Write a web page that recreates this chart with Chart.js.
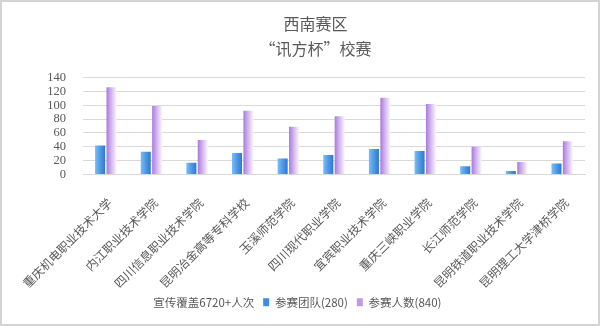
<!DOCTYPE html>
<html>
<head>
<meta charset="utf-8">
<script src="https://cdn.jsdelivr.net/npm/chart.js@4/dist/chart.umd.min.js"></script>
<style>
    html, body { margin: 0; padding: 0; background: #fff; }
    #wrap { position: relative; width: 600px; height: 326px; box-sizing: border-box; border: 2px solid #d4d4d4; }
    #chart { position: absolute; left: 0; top: 0; }
</style>
</head>
<body>
<div id="wrap"><canvas id="chart" width="596" height="322"></canvas></div>
<script>
// data
const schools = ['重庆机电职业技术大学', '内江职业技术学院', '四川信息职业技术学院', '昆明冶金高等专科学校', '玉溪师范学院',
    '四川现代职业学院', '宜宾职业技术学院', '重庆三峡职业学院', '长江师范学院', '昆明铁道职业技术学院', '昆明理工大学津桥学院'];
const teams = [42, 33, 17, 31, 23, 28, 37, 34, 12, 5, 16];
const people = [126, 99, 50, 92, 69, 84, 111, 102, 40, 18, 48];
const yTicks = [0, 20, 40, 60, 80, 100, 120, 140];
const coverNote = '宣传覆盖6720+人次';

const fontFamily = '"Noto Sans CJK SC", "DejaVu Sans", sans-serif';
const textColor = '#595959';

// horizontal gradient on each bar, like the office chart
const barGradient = {
    id: 'barGradient',
    afterLayout(chart) {
        // legend sits a bit left of centre in the original
        chart.legend.left -= 24;
        chart.legend.right -= 24;
    },
    beforeDatasetsDraw(chart) {
        const ctx = chart.ctx;
        chart.data.datasets.forEach((ds, di) => {
            if (!ds.gradStops) return;
            const meta = chart.getDatasetMeta(di);
            meta.data.forEach(bar => {
                const g = ctx.createLinearGradient(bar.x - bar.width / 2, 0, bar.x + bar.width / 2, 0);
                ds.gradStops.forEach(s => g.addColorStop(s[0], s[1]));
                bar.options.backgroundColor = g;
            });
        });
    }
};

const ctx = document.getElementById('chart').getContext('2d');
const chart = new Chart(ctx, {
    type: 'bar',
    data: {
        labels: schools,
        datasets: [{
            label: '参赛团队(280)',
            data: teams,
            backgroundColor: () => '#4a92e0',
            legendColor: '#3f8ddf',
            gradStops: [[0, '#7cbcf4'], [0.5, '#4f9ae6'], [1, '#2f78cf']]
        }, {
            label: '参赛人数(840)',
            data: people,
            backgroundColor: () => '#b58be2',
            legendColor: '#c09ae6',
            gradStops: [[0, '#a87ad8'], [0.35, '#c9a6ec'], [1, '#fbf7fe']]
        }]
    },
    options: {
        responsive: false,
        animation: false,
        layout: { padding: { left: 44, right: 13, top: 0, bottom: 6 } },
        datasets: {
            bar: { categoryPercentage: 0.5, barPercentage: 0.88 }
        },
        scales: {
            x: {
                grid: { display: false },
                border: { color: '#d9d9d9' },
                ticks: {
                    color: textColor,
                    font: { family: fontFamily, size: 12 },
                    minRotation: 45,
                    maxRotation: 45,
                    autoSkip: false,
                    padding: 13,
                    labelOffset: 4
                },
                afterFit: axis => { axis.paddingLeft = 0; axis.paddingRight = 0; axis.height = 113; }
            },
            y: {
                min: 0,
                max: 140,
                afterBuildTicks: axis => { axis.ticks = yTicks.map(v => ({ value: v })); },
                grid: { color: '#d9d9d9', drawTicks: false },
                border: { display: false },
                ticks: {
                    color: textColor,
                    font: { family: '"Liberation Serif", serif', size: 12.5 },
                    autoSkip: false,
                    padding: 17
                },
                afterFit: axis => { axis.width = 37; }
            }
        },
        plugins: {
            title: {
                display: true,
                text: ['西南赛区', '“讯方杯”校赛'],
                color: textColor,
                font: { family: fontFamily, size: 16, weight: 'normal', lineHeight: 1.55 },
                padding: { top: 10, bottom: 16 }
            },
            legend: {
                position: 'bottom',
                labels: {
                    color: textColor,
                    font: { family: fontFamily, size: 11.5 },
                    boxWidth: 6,
                    boxHeight: 8,
                    padding: 9,
                    generateLabels: chart => {
                        const items = chart.data.datasets.map((ds, i) => ({
                            text: ds.label,
                            fillStyle: ds.legendColor,
                            strokeStyle: ds.legendColor,
                            lineWidth: 0,
                            fontColor: textColor,
                            datasetIndex: i
                        }));
                        items.unshift({
                            text: coverNote,
                            fillStyle: 'rgba(0,0,0,0)',
                            strokeStyle: 'rgba(0,0,0,0)',
                            lineWidth: 0,
                            fontColor: textColor,
                            datasetIndex: -1
                        });
                        return items;
                    }
                }
            },
            tooltip: { enabled: false }
        }
    },
    plugins: [barGradient]
});
</script>
</body>
</html>
